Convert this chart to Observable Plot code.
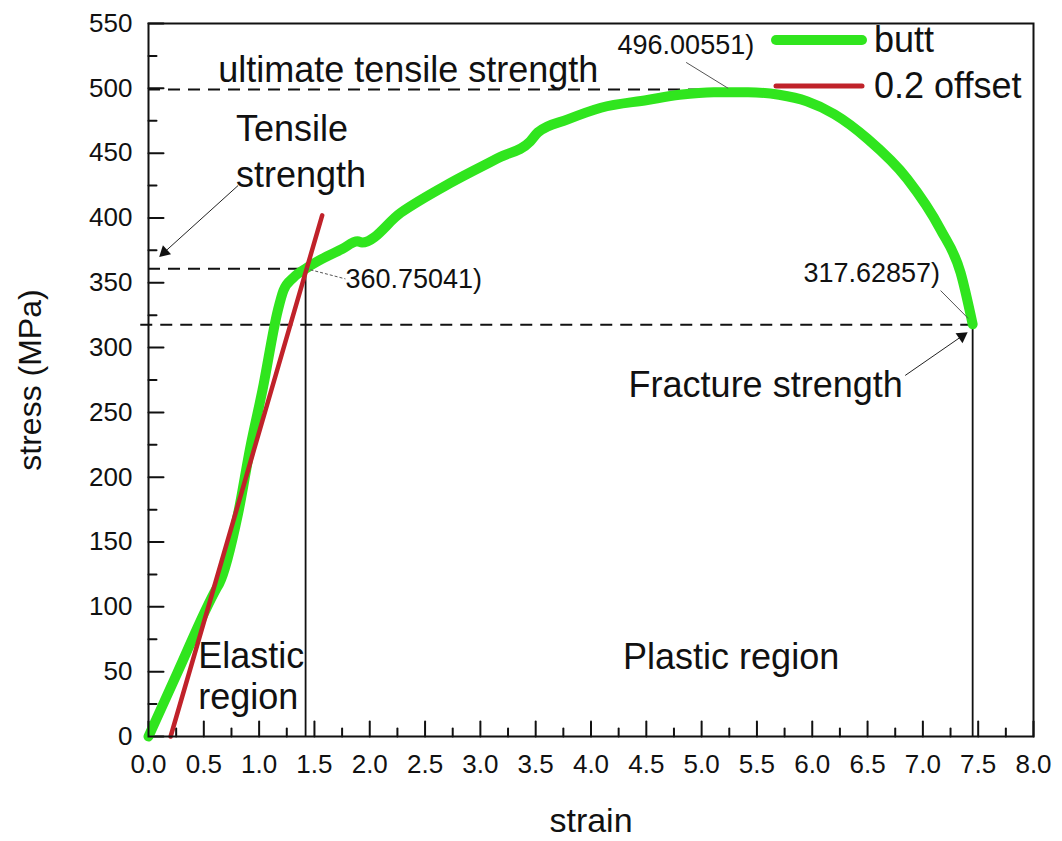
<!DOCTYPE html>
<html><head><meta charset="utf-8">
<script src="https://cdn.jsdelivr.net/npm/d3@7"></script>
<script src="https://cdn.jsdelivr.net/npm/@observablehq/plot@0.6"></script>
<style>
body{margin:0;background:#fff;font-family:"Liberation Sans",Arial,sans-serif;}
#wrap{position:relative;width:1062px;height:841px;}
#legend{position:absolute;left:770px;top:17px;font-family:"Liberation Sans",Arial,sans-serif;font-size:36px;color:#111;line-height:46px;}
#legend .row{display:flex;align-items:center;white-space:nowrap;}
#legend svg{margin-right:6px;}
</style></head><body><div id="wrap"><div id="legend"></div></div>
<script>
// ---- data ----
const strain = [0, 0.26, 0.62, 0.64, 0.81, 0.92, 1.03, 1.17, 1.22, 1.31, 1.44, 1.56, 1.75, 1.89, 1.93, 2.28, 2.73, 3.18, 3.45, 3.52, 3.79, 4.09, 4.51, 4.8, 5.11, 5.42, 5.7, 5.95, 6.2, 6.5, 6.86, 7.16, 7.34, 7.45];
const stress = [0, 49, 115, 118, 172, 223, 267, 329, 344, 354, 362, 368, 376, 382, 381, 404, 427, 447, 459, 466, 476, 485, 491, 495, 497, 497, 495, 490, 480, 461, 430, 391, 358, 318];
const offsetStrain = [0.2, 1.57];
const offsetStress = [0, 402];
const seriesNames = ["butt", "0.2 offset"];
const seriesColors = ["#30e51e", "#c0222a"];

const yieldStrain = 1.42, yieldStress = 360.75041;
const utsStrain = 5.24, utsStress = 499, utsLabel = "496.00551)";
const fractureStrain = 7.45, fractureStress = 317.62857;

const xMajor = [0,0.5,1,1.5,2,2.5,3,3.5,4,4.5,5,5.5,6,6.5,7,7.5,8];
const xMinor = [0.25,0.75,1.25,1.75,2.25,2.75,3.25,3.75,4.25,4.75,5.25,5.75,6.25,6.75,7.25,7.75];
const xTickLabels = ["0.0","0.5","1.0","1.5","2.0","2.5","3.0","3.5","4.0","4.5","5.0","5.5","6.0","6.5","7.0","7.5","8.0"];
const yMajor = [0,50,100,150,200,250,300,350,400,450,500,550];
const yMinor = [25,75,125,175,225,275,325,375,425,475,525];

// annotation texts anchored in data space
const notes = [
  {text: "ultimate tensile strength", x: 0.63, y: 514, size: 36},
  {text: "Tensile", x: 0.79, y: 468, size: 36},
  {text: "strength", x: 0.79, y: 433, size: 36},
  {text: "360.75041)", x: 1.78, y: 353, size: 27},
  {text: "317.62857)", x: 5.92, y: 357, size: 27},
  {text: "Fracture strength", x: 4.34, y: 271, size: 36},
  {text: "Elastic", x: 0.45, y: 62, size: 36},
  {text: "region", x: 0.45, y: 30, size: 36},
  {text: "Plastic region", x: 4.29, y: 61, size: 36},
  {text: utsLabel, x: 4.24, y: 533, size: 27}
];
const leaders = [
  {x1: 4.86, y1: 520, x2: 5.24, y2: 500, dash: null},
  {x1: 1.42, y1: 361, x2: 1.78, y2: 353, dash: "3,2"},
  {x1: 7.16, y1: 344, x2: 7.41, y2: 322.5, dash: null}
];
const arrows = [
  {x1: 0.81, y1: 425, x2: 0.11, y2: 371},
  {x1: 6.84, y1: 278.5, x2: 7.39, y2: 311}
];

const W = 1062, H = 841;
const mL = 148, mR = 29, mT = 23, mB = 105;
const sx = d3.scaleLinear([0, 8], [mL, W - mR]);
const sy = d3.scaleLinear([0, 550], [H - mB, mT]);

// inward ticks drawn as vectors anchored on the axes
const lineShape = {draw(context, l) { context.moveTo(0, 0); context.lineTo(0, -l); }};
const tickStyle = {anchor: "start", shape: lineShape, stroke: "#111", strokeWidth: 2};

const heads = arrows.map(a => {
  const dx = sx(a.x2) - sx(a.x1), dy = sy(a.y2) - sy(a.y1);
  const len = Math.hypot(dx, dy);
  const back = 5;
  return {
    x: sx.invert(sx(a.x2) - dx / len * back),
    y: sy.invert(sy(a.y2) - dy / len * back),
    rotate: Math.atan2(dx, -dy) * 180 / Math.PI
  };
});

const curve = strain.map((s, i) => ({s, v: stress[i]}));
const offset = offsetStrain.map((s, i) => ({s, v: offsetStress[i]}));
const dashes = [
  {x1: 0, x2: utsStrain, y: utsStress},
  {x1: 0, x2: yieldStrain, y: yieldStress},
  {x1: -0.07, x2: fractureStrain, y: fractureStress}
];
const verticals = [
  {x: yieldStrain, y: yieldStress},
  {x: fractureStrain, y: fractureStress}
];
const font = "Liberation Sans, Arial, sans-serif";

const plot = Plot.plot({
  width: W, height: H,
  marginLeft: mL, marginRight: mR, marginTop: mT, marginBottom: mB,
  style: {fontFamily: font, background: "white", color: "#111", overflow: "visible"},
  x: {domain: [0, 8]},
  y: {domain: [0, 550]},
  marks: [
    Plot.axisX(xMajor, {tickSize: 0, tickPadding: 18, fontSize: 26, tickFormat: (d, i) => xTickLabels[i], label: null}),
    Plot.axisY(yMajor, {tickSize: 0, tickPadding: 16, fontSize: 26, label: null}),
    Plot.vector(xMajor, {x: d => d, y: 0, length: 15, rotate: 0, ...tickStyle}),
    Plot.vector(xMinor, {x: d => d, y: 0, length: 8, rotate: 0, ...tickStyle}),
    Plot.vector(yMajor, {x: 0, y: d => d, length: 15, rotate: 90, ...tickStyle}),
    Plot.vector(yMinor, {x: 0, y: d => d, length: 8, rotate: 90, ...tickStyle}),
    Plot.ruleY(dashes, {x1: "x1", x2: "x2", y: "y", stroke: "#111", strokeWidth: 2, strokeDasharray: "12,8"}),
    Plot.ruleX(verticals, {x: "x", y1: 0, y2: "y", stroke: "#111", strokeWidth: 1.8}),
    Plot.line(curve, {x: "s", y: "v", stroke: seriesColors[0], strokeWidth: 10, curve: "monotone-x", strokeLinejoin: "round", strokeLinecap: "round"}),
    Plot.line(offset, {x: "s", y: "v", stroke: seriesColors[1], strokeWidth: 4.5, strokeLinecap: "round"}),
    Plot.link(leaders.filter(d => !d.dash), {x1: "x1", y1: "y1", x2: "x2", y2: "y2", stroke: "#555", strokeWidth: 1}),
    Plot.link(leaders.filter(d => d.dash), {x1: "x1", y1: "y1", x2: "x2", y2: "y2", stroke: "#555", strokeWidth: 1, strokeDasharray: "3,2"}),
    Plot.link(arrows, {x1: "x1", y1: "y1", x2: "x2", y2: "y2", stroke: "#222", strokeWidth: 1}),
    Plot.dot(heads, {x: "x", y: "y", symbol: "triangle", r: 4.5, fill: "#111", stroke: "none", rotate: "rotate"}),
    ...notes.map(n => Plot.text([n], {x: "x", y: "y", text: "text", textAnchor: "start", fontSize: n.size, fill: "#111"})),
    Plot.text(["stress (MPa)"], {frameAnchor: "left", textAnchor: "middle", dx: -118, rotate: -90, fontSize: 32, fill: "#111"}),
    Plot.text(["strain"], {frameAnchor: "bottom", textAnchor: "middle", dy: 95, fontSize: 34, fill: "#111"}),
    Plot.frame({stroke: "#111", strokeWidth: 2})
  ]
});
document.getElementById("wrap").appendChild(plot);

const legend = document.getElementById("legend");
seriesNames.forEach((name, i) => {
  const row = document.createElement("div");
  row.className = "row";
  const w = i === 0 ? 10 : 5;
  row.innerHTML = `<svg width="98" height="14"><line x1="6" y1="7" x2="92" y2="7" stroke="${seriesColors[i]}" stroke-width="${w}" stroke-linecap="round"/></svg><span>${name}</span>`;
  legend.appendChild(row);
});
</script>
</body></html>
